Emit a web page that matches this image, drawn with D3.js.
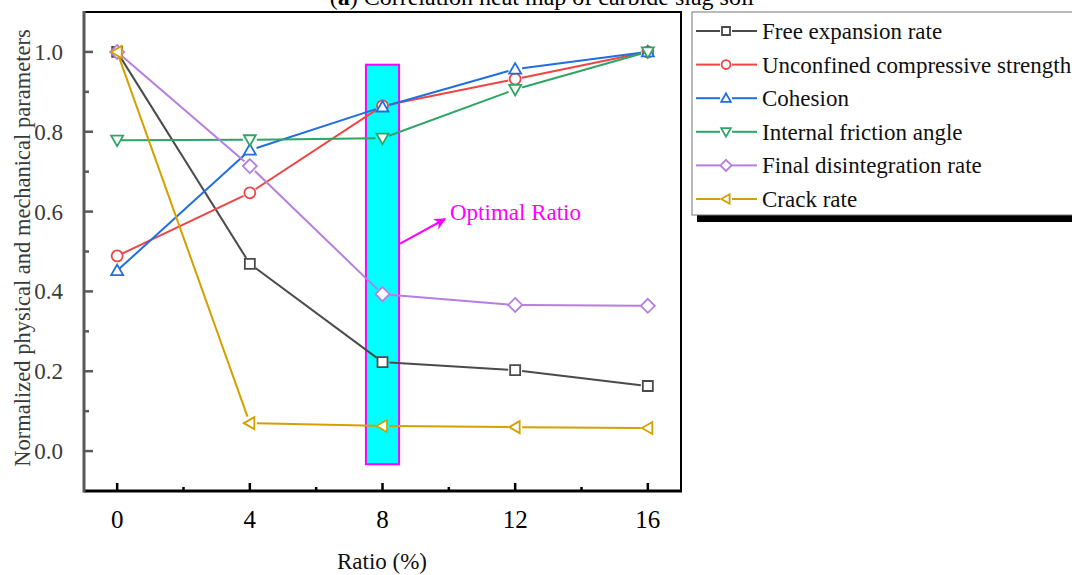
<!DOCTYPE html>
<html>
<head>
<meta charset="utf-8">
<script src="https://cdn.jsdelivr.net/npm/d3@7"></script>
<style>
  html, body { margin: 0; padding: 0; background: #fff; }
  svg { display: block; font-family: "Liberation Serif", "Times New Roman", serif; }
</style>
</head>
<body>
<svg id="chart" width="1072" height="575"></svg>
<script>
// Carbide slag dosage (%)
const ratios = [0, 4, 8, 12, 16];

// Normalized parameters per series
const freeExpansion   = [1.000, 0.469, 0.223, 0.203, 0.163];
const ucs             = [0.489, 0.647, 0.865, 0.932, 1.000];
const cohesion        = [0.452, 0.754, 0.862, 0.957, 1.000];
const frictionAngle   = [0.779, 0.780, 0.784, 0.906, 1.000];
const disintegration  = [1.000, 0.714, 0.393, 0.366, 0.364];
const crackRate       = [1.000, 0.070, 0.063, 0.060, 0.058];

const seriesNames = ["Free expansion rate", "Unconfined compressive strength", "Cohesion",
                     "Internal friction angle", "Final disintegration rate", "Crack rate"];
const seriesValues = [freeExpansion, ucs, cohesion, frictionAngle, disintegration, crackRate];
const seriesColors = ["#4a4a4a", "#f04444", "#1f6fe0", "#2fa565", "#b57ee0", "#d4a000"];
const seriesMarkers = ["square", "circle", "up", "down", "diamond", "left"];

const xTicks = [0, 4, 8, 12, 16];
const xMinorTicks = [2, 6, 10, 14];
const yTicks = [0.0, 0.2, 0.4, 0.6, 0.8, 1.0];
const yMinorTicks = [0.1, 0.3, 0.5, 0.7, 0.9];

// Highlighted optimum band
const bandX = [7.5, 8.5];
const bandY = [-0.033, 0.968];

const svg = d3.select("#chart");
const plot = { left: 84, right: 681, top: 12, bottom: 491 };

const x = d3.scaleLinear().domain([-1, 17]).range([plot.left, plot.right]);
const y = d3.scaleLinear().domain([-0.1, 1.1]).range([plot.bottom, plot.top]);

// Title (partly above the canvas)
svg.append("text")
  .attr("x", 542).attr("y", 5)
  .attr("text-anchor", "middle")
  .attr("font-size", 24)
  .attr("fill", "#000")
  .html('(<tspan font-weight="bold">a</tspan>) Correlation heat map of carbide slag soil');

// Optimum band
svg.append("rect")
  .attr("x", x(bandX[0])).attr("y", y(bandY[1]))
  .attr("width", x(bandX[1]) - x(bandX[0]))
  .attr("height", y(bandY[0]) - y(bandY[1]))
  .attr("fill", "#00ffff")
  .attr("stroke", "#ff00ff")
  .attr("stroke-width", 2);

// Marker shapes
function markerPath(type, s) {
  switch (type) {
    case "square": return `M${-s},${-s}H${s}V${s}H${-s}Z`;
    case "circle": return d3.arc()({innerRadius: 0, outerRadius: s * 1.1, startAngle: 0, endAngle: 2 * Math.PI});
    case "up": return `M0,${-s * 1.2}L${s * 1.2},${s * 0.9}L${-s * 1.2},${s * 0.9}Z`;
    case "down": return `M0,${s * 1.2}L${s * 1.2},${-s * 0.9}L${-s * 1.2},${-s * 0.9}Z`;
    case "diamond": return `M0,${-s * 1.4}L${s * 1.4},0L0,${s * 1.4}L${-s * 1.4},0Z`;
    case "left": return `M${-s * 1.2},0L${s * 0.9},${-s * 1.2}L${s * 0.9},${s * 1.2}Z`;
  }
}

// Series lines (segments with small gaps near markers) and markers
const gap = 7;
seriesValues.forEach((vals, i) => {
  const g = svg.append("g");
  const pts = ratios.map((r, j) => [x(r), y(vals[j])]);
  for (let j = 0; j < pts.length - 1; j++) {
    const [x0, y0] = pts[j], [x1, y1] = pts[j + 1];
    const dx = x1 - x0, dy = y1 - y0, len = Math.hypot(dx, dy);
    const g0 = j === 0 ? 2 : gap;
    if (len <= g0 + gap) continue;
    g.append("line")
      .attr("x1", x0 + dx / len * g0).attr("y1", y0 + dy / len * g0)
      .attr("x2", x1 - dx / len * gap).attr("y2", y1 - dy / len * gap)
      .attr("stroke", seriesColors[i]).attr("stroke-width", 2);
  }
  g.selectAll("path.m").data(pts).join("path")
    .attr("class", "m")
    .attr("transform", d => `translate(${d[0]},${d[1]})`)
    .attr("d", markerPath(seriesMarkers[i], 5))
    .attr("fill", "#fff")
    .attr("stroke", seriesColors[i])
    .attr("stroke-width", 1.8);
});

// Annotation arrow and label
const magenta = "#ff00ff";
svg.append("defs").append("marker")
  .attr("id", "arrowHead")
  .attr("viewBox", "0 0 10 10").attr("refX", 9).attr("refY", 5)
  .attr("markerWidth", 6).attr("markerHeight", 6).attr("markerUnits", "strokeWidth")
  .attr("orient", "auto")
  .append("path").attr("d", "M0,0L10,5L0,10L3,5Z").attr("fill", magenta);
svg.append("line")
  .attr("x1", x(bandX[1]) + 1).attr("y1", y(0.52))
  .attr("x2", 445).attr("y2", 219)
  .attr("stroke", magenta).attr("stroke-width", 2)
  .attr("marker-end", "url(#arrowHead)");
svg.append("text")
  .attr("x", 450).attr("y", 220)
  .attr("font-size", 23)
  .attr("fill", magenta)
  .text("Optimal Ratio");

// Frame
svg.append("line").attr("x1", plot.left).attr("x2", plot.right + 1)
  .attr("y1", plot.top).attr("y2", plot.top).attr("stroke", "#000").attr("stroke-width", 2);
svg.append("line").attr("x1", plot.right).attr("x2", plot.right)
  .attr("y1", plot.top).attr("y2", plot.bottom).attr("stroke", "#000").attr("stroke-width", 2);

// X axis (ticks pointing inward)
const xAxis = svg.append("g");
xAxis.append("line").attr("x1", plot.left).attr("x2", plot.right + 1)
  .attr("y1", plot.bottom).attr("y2", plot.bottom).attr("stroke", "#000").attr("stroke-width", 3);
xAxis.selectAll("line.maj").data(xTicks).join("line").attr("class", "maj")
  .attr("x1", d => x(d)).attr("x2", d => x(d))
  .attr("y1", plot.bottom).attr("y2", plot.bottom - 8)
  .attr("stroke", "#000").attr("stroke-width", 2.5);
xAxis.selectAll("line.min").data(xMinorTicks).join("line").attr("class", "min")
  .attr("x1", d => x(d)).attr("x2", d => x(d))
  .attr("y1", plot.bottom).attr("y2", plot.bottom - 4)
  .attr("stroke", "#000").attr("stroke-width", 2.5);
xAxis.selectAll("text").data(xTicks).join("text")
  .attr("x", d => x(d)).attr("y", 528)
  .attr("text-anchor", "middle").attr("font-size", 25).attr("fill", "#000")
  .text(d => d);
svg.append("text")
  .attr("x", 382).attr("y", 569)
  .attr("text-anchor", "middle").attr("font-size", 23).attr("fill", "#111")
  .text("Ratio (%)");

// Y axis (grey, ticks pointing inward)
const yColor = "#595959";
const yAxis = svg.append("g");
yAxis.append("line").attr("x1", plot.left).attr("x2", plot.left)
  .attr("y1", plot.top - 1).attr("y2", plot.bottom + 1.5).attr("stroke", yColor).attr("stroke-width", 3);
yAxis.selectAll("line.maj").data(yTicks).join("line").attr("class", "maj")
  .attr("x1", plot.left).attr("x2", plot.left + 9)
  .attr("y1", d => y(d)).attr("y2", d => y(d))
  .attr("stroke", yColor).attr("stroke-width", 2.5);
yAxis.selectAll("line.min").data(yMinorTicks).join("line").attr("class", "min")
  .attr("x1", plot.left).attr("x2", plot.left + 5)
  .attr("y1", d => y(d)).attr("y2", d => y(d))
  .attr("stroke", yColor).attr("stroke-width", 2.5);
yAxis.selectAll("text").data(yTicks).join("text")
  .attr("x", 63).attr("y", d => y(d) + 8)
  .attr("text-anchor", "end").attr("font-size", 23).attr("fill", "#3a3a3a")
  .text(d => d.toFixed(1));
svg.append("text")
  .attr("transform", `translate(30,${248}) rotate(-90)`)
  .attr("text-anchor", "middle").attr("font-size", 22.5).attr("fill", "#3a3a3a")
  .text("Normalized physical and mechanical parameters");

// Legend with drop shadow
const lg = svg.append("g");
lg.append("rect").attr("x", 697).attr("y", 17).attr("width", 400).attr("height", 205).attr("fill", "#000");
lg.append("rect").attr("x", 692).attr("y", 12).attr("width", 400).attr("height", 203)
  .attr("fill", "#fff").attr("stroke", "#777").attr("stroke-width", 1);
const rowY = d3.scaleLinear().domain([0, 5]).range([31, 199]);
seriesNames.forEach((name, i) => {
  const cy = rowY(i);
  lg.append("line").attr("x1", 696).attr("x2", 720).attr("y1", cy).attr("y2", cy)
    .attr("stroke", seriesColors[i]).attr("stroke-width", 2);
  lg.append("line").attr("x1", 732).attr("x2", 757).attr("y1", cy).attr("y2", cy)
    .attr("stroke", seriesColors[i]).attr("stroke-width", 2);
  lg.append("path").attr("transform", `translate(726,${cy})`)
    .attr("d", markerPath(seriesMarkers[i], 4))
    .attr("fill", "#fff").attr("stroke", seriesColors[i]).attr("stroke-width", 1.8);
  lg.append("text").attr("x", 762).attr("y", cy + 8)
    .attr("font-size", 23).attr("fill", "#111").text(name);
});
</script>
</body>
</html>
